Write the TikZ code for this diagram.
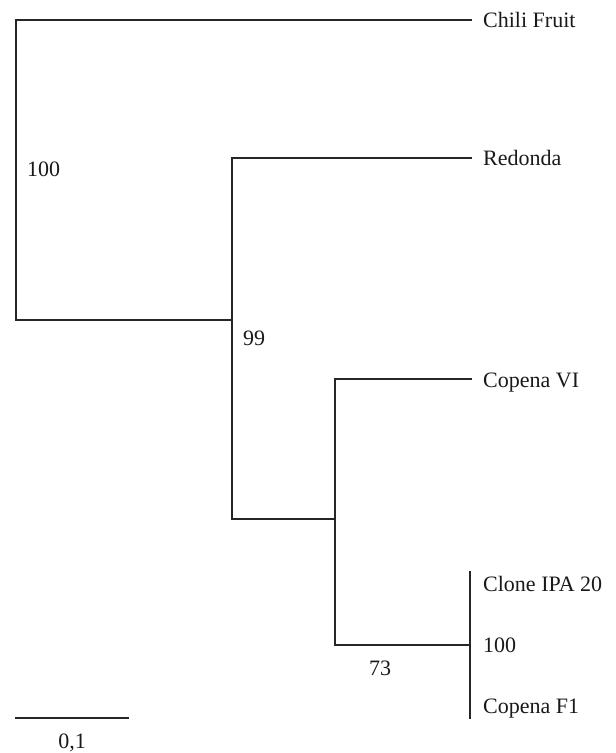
\documentclass[tikz,border=0pt]{standalone}
\usepackage{fontspec}
\setmainfont{Liberation Serif}
\begin{document}
\begin{tikzpicture}[x=1pt,y=-1pt,
  branch/.style={line width=1.4pt, draw=black!85, line cap=rect},
  lbl/.style={anchor=base west, inner sep=0pt, font=\fontsize{22}{26}\selectfont, text=black!90},
  boot/.style={anchor=base west, inner sep=0pt, font=\fontsize{22}{26}\selectfont, text=black!90}]
\useasboundingbox (0,0) rectangle (616,753);
% internal points
\coordinate (root) at (16,320);
\coordinate (a) at (232,320);
\coordinate (b) at (335,519);
\coordinate (c) at (470,645);
\coordinate (cTop) at (470,572);
\coordinate (cBot) at (470,718);
% leaf ends
\coordinate (tChili) at (471,20);
\coordinate (tRed) at (471,158);
\coordinate (tCV) at (471,379);
% scale bar ends
\coordinate (s1) at (16,718);
\coordinate (s2) at (128,718);
% labels
\node[lbl] (chili) at (483,27) {Chili Fruit};
\node[lbl] (red) at (483,165) {Redonda};
\node[lbl] (cv) at (483,387) {Copena VI};
\node[lbl] (clone) at (483,591) {Clone IPA 20};
\node[lbl] (cf1) at (483,713) {Copena F1};
\node[boot] (b100a) at (27,176) {100};
\node[boot] (b99) at (243,345) {99};
\node[boot] (b73) at (369,675) {73};
\node[boot] (b100b) at (483,652) {100};
\node[anchor=base, inner sep=0pt, font=\fontsize{22}{26}\selectfont, text=black!90] (scale) at (72,748) {0,1};
% branches
\draw[branch] (tChili) -| (root) -- (a);
\draw[branch] (tRed) -| (a) |- (b);
\draw[branch] (tCV) -| (b) |- (c);
\draw[branch] (cTop) -- (cBot);
\draw[branch] (s1) -- (s2);
\end{tikzpicture}
\end{document}
